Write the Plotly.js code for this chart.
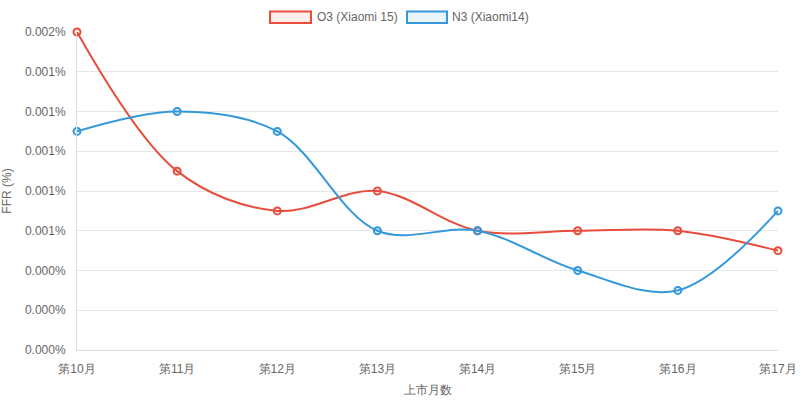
<!DOCTYPE html>
<html>
<head>
<meta charset="utf-8">
<script src="https://cdn.plot.ly/plotly-3.0.1.min.js"></script>
<style>
  html, body { margin: 0; padding: 0; background: #fff; }
  #plot { width: 800px; height: 401px; }
</style>
</head>
<body>
<div id="plot"></div>
<script>
var months = ["第10月", "第11月", "第12月", "第13月", "第14月", "第15月", "第16月", "第17月"];
var o3 = [0.0016, 0.0009, 0.0007, 0.0008, 0.0006, 0.0006, 0.0006, 0.0005];
var n3 = [0.0011, 0.0012, 0.0011, 0.0006, 0.0006, 0.0004, 0.0003, 0.0007];
var yTicks = [0, 0.0002, 0.0004, 0.0006, 0.0008, 0.0010, 0.0012, 0.0014, 0.0016];

var red = "#e74c3c";
var blue = "#3498db";
var font = "Liberation Sans, Arial, sans-serif";

function series(name, values, color, fillColor) {
  return {
    x: months,
    y: values,
    name: name,
    type: "scatter",
    mode: "lines+markers",
    line: {color: color, width: 2, shape: "spline", smoothing: 1},
    marker: {size: 7, color: fillColor, line: {color: color, width: 2}},
    cliponaxis: false,
    showlegend: false
  };
}

var data = [
  series("O3 (Xiaomi 15)", o3, red, "rgba(231,76,60,0.1)"),
  series("N3 (Xiaomi14)", n3, blue, "rgba(52,152,219,0.1)")
];

// legend drawn by hand, chart.js style boxes
var layout = {
  width: 800,
  height: 401,
  margin: {l: 77, r: 22, t: 32, b: 51},
  paper_bgcolor: "#fff",
  plot_bgcolor: "#fff",
  font: {family: font, size: 12, color: "#666"},
  xaxis: {
    type: "category",
    range: [0, 7],
    showgrid: false,
    showline: true,
    linecolor: "#ddd",
    ticks: "",
    ticklabelstandoff: 8,
    zeroline: false,
    title: {text: "上市月数", font: {size: 12, color: "#666"}, standoff: 10}
  },
  yaxis: {
    range: [0, 0.0016],
    tickvals: yTicks,
    ticktext: yTicks.map(function(v) { return v.toFixed(3) + "%"; }),
    gridcolor: "#e6e6e6",
    showline: true,
    linecolor: "#ddd",
    zeroline: false,
    ticks: "",
    ticklabelstandoff: 8,
    title: {text: "FFR (%)", font: {size: 12, color: "#666"}, standoff: 10}
  },
  shapes: [
    {type: "rect", xref: "paper", yref: "paper", x0: 0.2753, x1: 0.3338, y0: 1.028, y1: 1.0645,
     line: {color: red, width: 2}, fillcolor: "rgba(231,76,60,0.1)"},
    {type: "rect", xref: "paper", yref: "paper", x0: 0.4708, x1: 0.5278, y0: 1.028, y1: 1.0645,
     line: {color: blue, width: 2}, fillcolor: "rgba(52,152,219,0.1)"}
  ],
  annotations: [
    {xref: "paper", yref: "paper", x: 0.339, y: 1.047, xanchor: "left", yanchor: "middle",
     text: data[0].name, showarrow: false, font: {size: 12, color: "#666"}},
    {xref: "paper", yref: "paper", x: 0.532, y: 1.047, xanchor: "left", yanchor: "middle",
     text: data[1].name, showarrow: false, font: {size: 12, color: "#666"}}
  ]
};

Plotly.newPlot("plot", data, layout, {displayModeBar: false, staticPlot: true});
</script>
</body>
</html>
